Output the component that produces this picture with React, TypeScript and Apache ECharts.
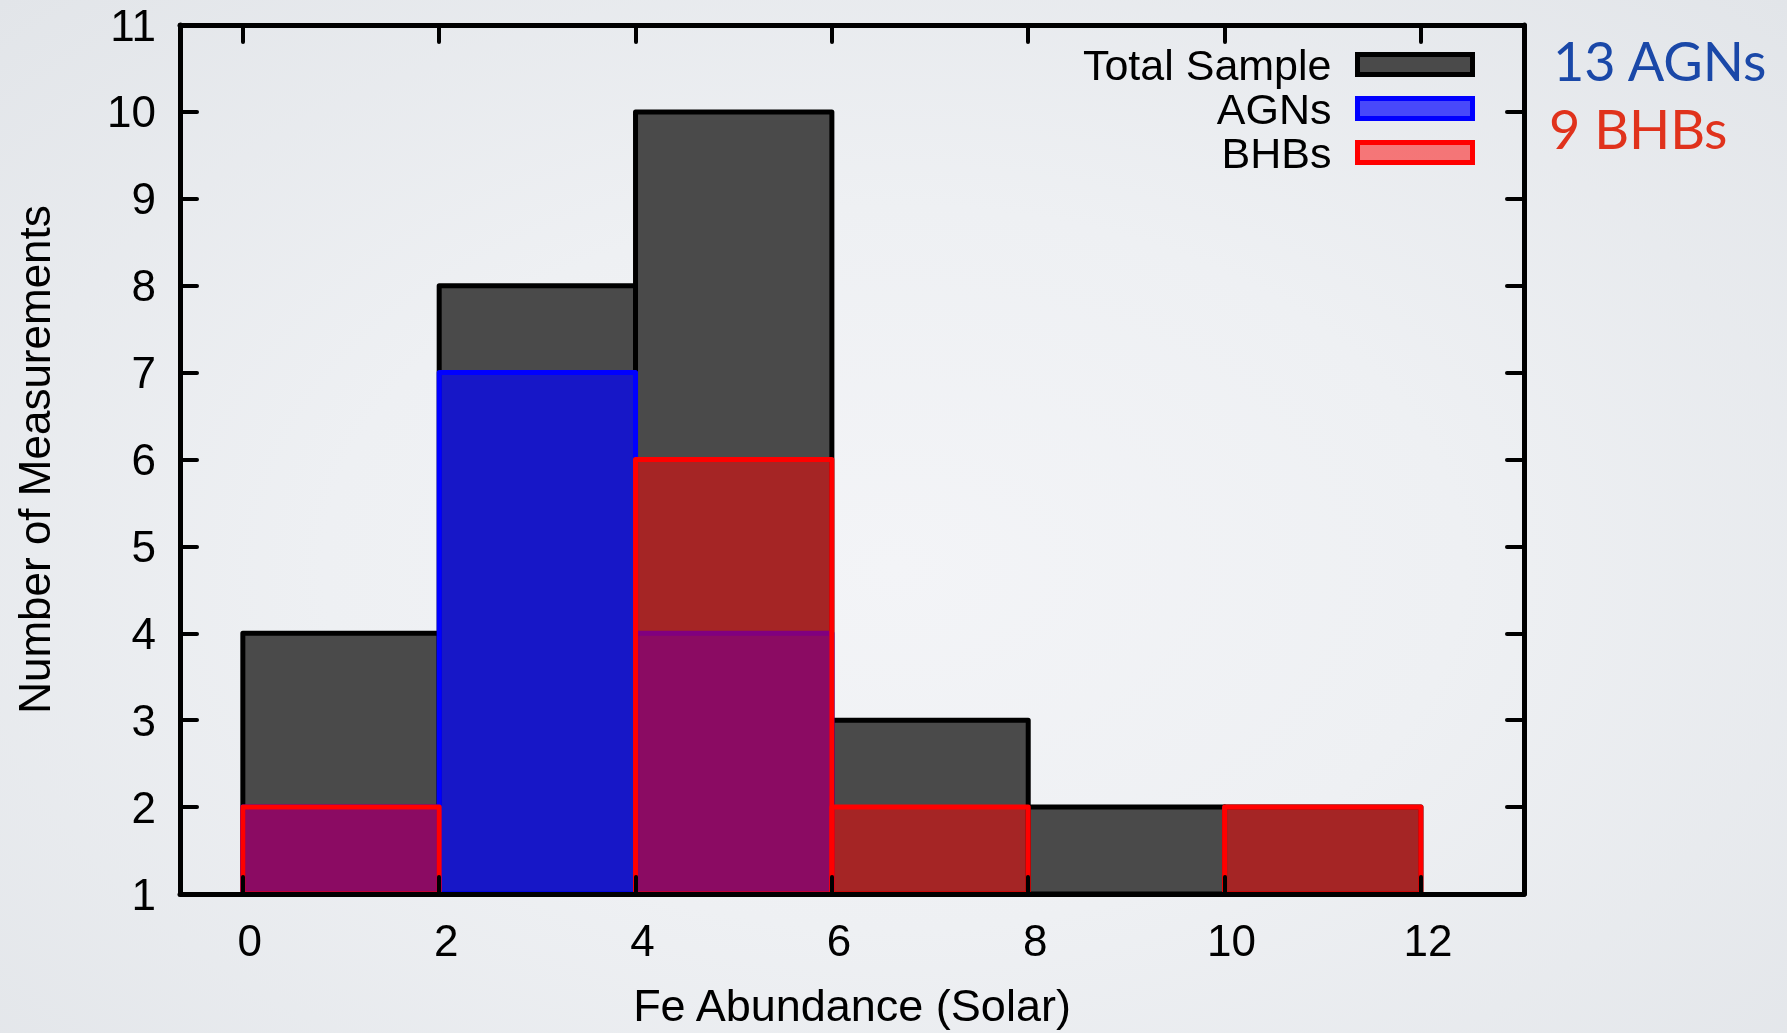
import React, { useEffect, useRef } from "react";
import * as echarts from "echarts";

// Histogram bins (Fe abundance in solar units) and counts per bin
const binStarts = [0, 2, 4, 6, 8, 10];
const binWidth = 2;
const totalCounts = [4, 8, 10, 3, 2, 2];
const agnCounts = [2, 7, 4, 0, 0, 0];
const bhbCounts = [2, 0, 6, 2, 0, 2];

const xTicks = [0, 2, 4, 6, 8, 10, 12];
const X_MIN = -0.64;
const X_MAX = 13.05;
const Y_MIN = 1;
const Y_MAX = 11;

const sideNotes = [
  { text: "13 AGNs", color: "#1a48a8", left: 1553, top: 33 },
  { text: "9 BHBs", color: "#e0321c", left: 1549, top: 101 },
];

const FONT = "Liberation Sans, Arial, Helvetica, sans-serif";

type Bin = [number, number, number];

function toBins(counts: number[]): Bin[] {
  return binStarts
    .map((x0, i) => [x0, x0 + binWidth, counts[i]] as Bin)
    .filter((b) => b[2] > 0);
}

function boxSeries(name: string, counts: number[], fill: string, stroke: string, z: number) {
  return {
    type: "custom",
    name,
    z,
    clip: true,
    itemStyle: { color: fill, borderColor: stroke, borderWidth: 5 },
    encode: { x: [0, 1], y: 2 },
    data: toBins(counts),
    renderItem: (_params: any, api: any) => {
      const x0 = api.value(0);
      const x1 = api.value(1);
      const v = api.value(2);
      const topLeft = api.coord([x0, v]);
      const bottomRight = api.coord([x1, Y_MIN]);
      return {
        type: "rect",
        shape: {
          x: topLeft[0],
          y: topLeft[1],
          width: bottomRight[0] - topLeft[0],
          height: bottomRight[1] - topLeft[1],
        },
        style: { fill, stroke, lineWidth: 5, lineJoin: "round" },
      };
    },
  };
}

const axisLineStyle = { color: "#000", width: 5, cap: "round" as const };
const tickStyle = { color: "#000", width: 4, cap: "round" as const };

export default function App() {
  const ref = useRef<HTMLDivElement>(null);

  useEffect(() => {
    if (!ref.current) return;
    const chart = echarts.init(ref.current, null, { renderer: "svg" });

    const totalFill = "#4a4a4a";
    const agnFill = "rgba(0,0,255,0.69)";
    const bhbFill = "rgba(255,0,0,0.5)";

    chart.setOption({
      animation: false,
      backgroundColor: "transparent",
      textStyle: { fontFamily: FONT },
      grid: { left: 180, right: 263, top: 25, bottom: 134.5, containLabel: false },
      legend: {
        orient: "vertical",
        right: 307,
        top: 38,
        align: "right",
        itemWidth: 115,
        itemHeight: 20,
        itemGap: 1,
        selectedMode: false,
        textStyle: {
          fontSize: 43,
          fontFamily: FONT,
          color: "#000",
          lineHeight: 43,
          padding: [0, 21, 0, 0],
        },
        data: [
          {
            name: "Total Sample",
            icon: "rect",
            itemStyle: { color: totalFill, borderColor: "#000", borderWidth: 5 },
          },
          {
            name: "AGNs",
            icon: "rect",
            itemStyle: { color: agnFill, borderColor: "#0000ff", borderWidth: 5 },
          },
          {
            name: "BHBs",
            icon: "rect",
            itemStyle: { color: bhbFill, borderColor: "#ff0000", borderWidth: 5 },
          },
        ],
      },
      xAxis: [
        {
          type: "value",
          min: X_MIN,
          max: X_MAX,
          position: "bottom",
          z: 5,
          name: "Fe Abundance (Solar)",
          nameLocation: "middle",
          nameGap: 89,
          nameTextStyle: { fontSize: 45, color: "#000", fontFamily: FONT },
          splitLine: { show: false },
          axisLine: { show: true, onZero: false, lineStyle: axisLineStyle },
          axisTick: { show: true, inside: true, length: 17, customValues: xTicks, lineStyle: tickStyle },
          axisLabel: {
            show: true,
            customValues: xTicks,
            fontSize: 44,
            color: "#000",
            margin: 24,
            padding: [0, 0, 0, 14],
            fontFamily: FONT,
          },
        },
        {
          type: "value",
          min: X_MIN,
          max: X_MAX,
          position: "top",
          z: 5,
          splitLine: { show: false },
          axisLine: { show: true, onZero: false, lineStyle: axisLineStyle },
          axisTick: { show: true, inside: true, length: 17, customValues: xTicks, lineStyle: tickStyle },
          axisLabel: { show: false },
        },
      ],
      yAxis: [
        {
          type: "value",
          min: Y_MIN,
          max: Y_MAX,
          interval: 1,
          position: "left",
          z: 5,
          name: "Number of Measurements",
          nameLocation: "middle",
          nameGap: 124,
          nameRotate: 90,
          nameTextStyle: { fontSize: 44, color: "#000", fontFamily: FONT },
          splitLine: { show: false },
          axisLine: { show: true, onZero: false, lineStyle: axisLineStyle },
          axisTick: { show: true, inside: true, length: 17, lineStyle: tickStyle },
          axisLabel: { fontSize: 44, color: "#000", margin: 24, fontFamily: FONT },
        },
        {
          type: "value",
          min: Y_MIN,
          max: Y_MAX,
          interval: 1,
          position: "right",
          z: 5,
          splitLine: { show: false },
          axisLine: { show: true, onZero: false, lineStyle: axisLineStyle },
          axisTick: { show: true, inside: true, length: 17, lineStyle: tickStyle },
          axisLabel: { show: false },
        },
      ],
      graphic: sideNotes.map((n) => ({
        type: "text",
        left: n.left,
        top: n.top,
        style: {
          text: n.text,
          fill: n.color,
          fontSize: 54,
          fontFamily: "Lato, 'Open Sans', sans-serif",
        },
      })),
      series: [
        boxSeries("Total Sample", totalCounts, totalFill, "#000000", 2),
        boxSeries("AGNs", agnCounts, agnFill, "#0000ff", 3),
        boxSeries("BHBs", bhbCounts, bhbFill, "#ff0000", 4),
      ],
    });

    return () => chart.dispose();
  }, []);

  return (
    <div
      style={{
        position: "fixed",
        left: 0,
        top: 0,
        width: 1787,
        height: 1033,
        background:
          "radial-gradient(ellipse at 50% 55%, #f3f4f7 0%, #eef0f3 45%, #e2e5e9 100%)",
      }}
    >
      <div ref={ref} style={{ width: 1787, height: 1033 }} />
    </div>
  );
}
